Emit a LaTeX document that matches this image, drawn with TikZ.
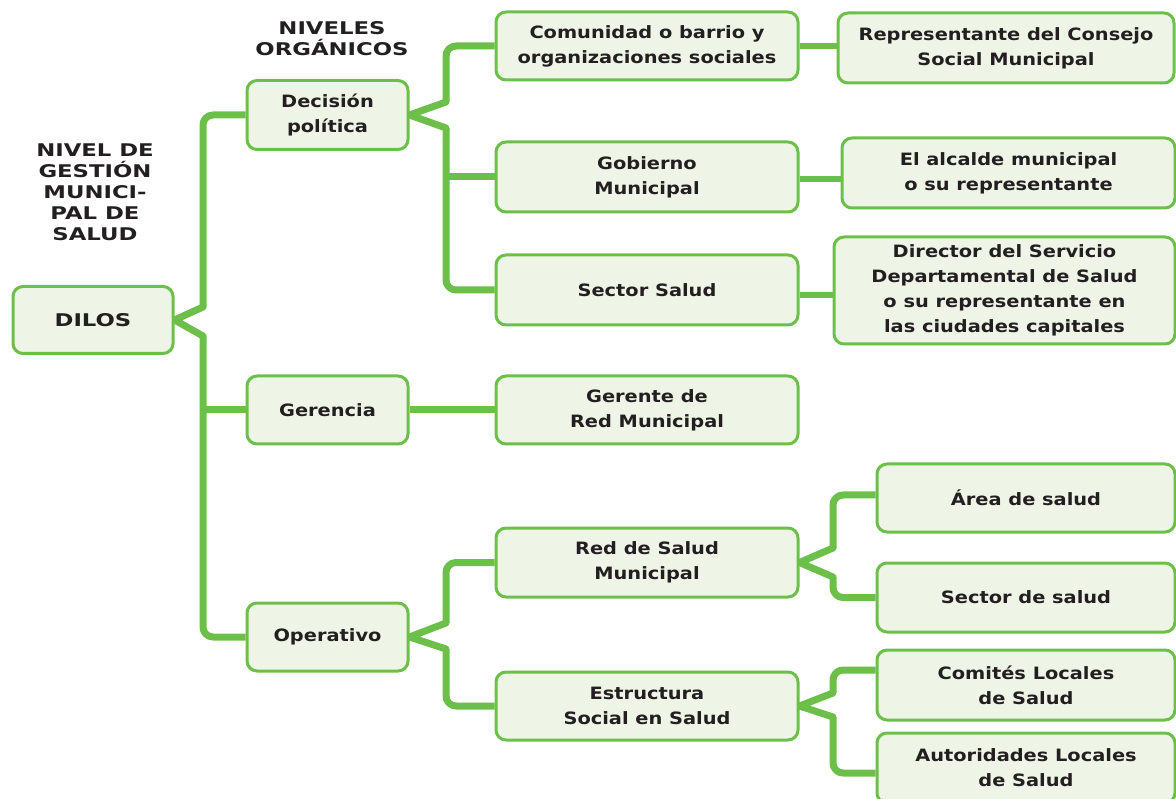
\documentclass[tikz,border=0pt]{standalone}
\usepackage{fontspec}
\setmainfont{DejaVu Sans}
\newfontfamily\boxfont{DejaVu Sans Bold}[FakeStretch=1.14]
\newfontfamily\capsfont{DejaVu Sans Bold}[FakeStretch=1.3]
\usetikzlibrary{backgrounds}
\definecolor{leaf}{HTML}{6CC04A}
\definecolor{leaffill}{HTML}{EEF5E7}
\definecolor{ink}{HTML}{231F20}
\tikzset{
  box/.style={draw=leaf, line width=3pt, fill=leaffill, rounded corners=10pt,
    align=center, text=ink, font=\boxfont\fontsize{17}{25}\selectfont, inner sep=0pt},
  capsbox/.style={box, font=\capsfont\fontsize{17.5}{25}\selectfont},
  heading/.style={align=center, text=ink, font=\capsfont\fontsize{17.5}{21}\selectfont},
  conn/.style={draw=leaf, line width=7pt, line join=round},
  arm/.style={conn, rounded corners=10pt},
  wedge/.style={conn, line cap=round, line join=miter},
  link/.style={draw=leaf, line width=6pt},
}
\begin{document}
\begin{tikzpicture}[x=1pt, y=-1pt]
\useasboundingbox (0,0) rectangle (1176,799);

% headings
\node[heading] (hniv) at (332,39) {NIVELES\\ORGÁNICOS};
\node[heading] (hges) at (95,192) {NIVEL DE\\GESTIÓN\\MUNICI-\\PAL DE\\SALUD};

% level 0
\node[capsbox, minimum width=160pt, minimum height=67pt] (dilos) at (93,320) {DILOS};

% level 1
\node[box, minimum width=161pt, minimum height=69pt] (dec) at (327.5,115) {Decisión\\política};
\node[box, minimum width=161pt, minimum height=68pt] (ger) at (327.5,410) {Gerencia};
\node[box, minimum width=161pt, minimum height=68pt] (ope) at (327.5,637) {Operativo};

% level 2
\node[box, minimum width=302pt, minimum height=68pt] (com) at (647,46) {Comunidad o barrio y\\organizaciones sociales};
\node[box, minimum width=302pt, minimum height=70pt] (gob) at (647,177) {Gobierno\\Municipal};
\node[box, minimum width=302pt, minimum height=70pt] (sal) at (647,290) {Sector Salud};
\node[box, minimum width=302pt, minimum height=68pt] (gte) at (647,410) {Gerente de\\Red Municipal};
\node[box, minimum width=302pt, minimum height=69pt] (red) at (647,562.5) {Red de Salud\\Municipal};
\node[box, minimum width=302pt, minimum height=68pt] (est) at (647,706) {Estructura\\Social en Salud};

% level 3
\node[box, minimum width=336pt, minimum height=70pt] (rep) at (1006,48) {Representante del Consejo\\Social Municipal};
\node[box, minimum width=333pt, minimum height=70pt] (alc) at (1008.5,173) {El alcalde municipal\\o su representante};
\node[box, minimum width=341pt, minimum height=107pt] (dir) at (1004.5,290.5) {Director del Servicio\\Departamental de Salud\\o su representante en\\las ciudades capitales};
\node[box, minimum width=298pt, minimum height=68pt] (area) at (1026,498) {Área de salud};
\node[box, minimum width=298pt, minimum height=69pt] (sect) at (1026,597.5) {Sector de salud};
\node[box, minimum width=298pt, minimum height=70pt] (comi) at (1026,685) {Comités Locales\\de Salud};
\node[box, minimum width=298pt, minimum height=70pt] (aut) at (1026,768) {Autoridades Locales\\de Salud};

% branch points of the brackets
\coordinate (d1) at (203,307);  \coordinate (d2) at (203,336);
\coordinate (p1) at (446,102);  \coordinate (p2) at (446,128);
\coordinate (o1) at (446,623);  \coordinate (o2) at (446,649);
\coordinate (r1) at (833,548);  \coordinate (r2) at (833,577);
\coordinate (e1) at (833,693);  \coordinate (e2) at (833,717);

\begin{scope}[on background layer]
  % DILOS
  \draw[arm] (dec.west) -| (d1);
  \draw[wedge] (d1) -- (dilos.east) -- (d2);
  \draw[arm] (d2) |- (ope.west);
  \draw[conn] (ger.west) -- (ger.west -| d1);
  % Decisión política
  \draw[arm] (com.west) -| (p1);
  \draw[wedge] (p1) -- (dec.east) -- (p2);
  \draw[arm] (p2) |- (sal.west);
  \draw[conn] (gob.west) -- (gob.west -| p2);
  % Operativo
  \draw[arm] (red.west) -| (o1);
  \draw[wedge] (o1) -- (ope.east) -- (o2);
  \draw[arm] (o2) |- (est.west);
  % Red de Salud Municipal
  \draw[arm] ([yshift=3pt]area.west) -| (r1);
  \draw[wedge] (r1) -- (red.east) -- (r2);
  \draw[arm] (r2) |- (sect.west);
  % Estructura Social en Salud
  \draw[arm] ([yshift=15pt]comi.west) -| (e1);
  \draw[wedge] (e1) -- (est.east) -- (e2);
  \draw[arm] (e2) |- ([yshift=-5pt]aut.west);
  % straight links
  \draw[conn] (ger.east) -- (gte.west);
  \draw[link] (com.east) -- (com.east -| rep.west);
  \draw[link] ([yshift=-2pt]gob.east) -- ([yshift=-2pt]gob.east -| alc.west);
  \draw[link] ([yshift=-5pt]sal.east) -- ([yshift=-5pt]sal.east -| dir.west);
\end{scope}
\end{tikzpicture}
\end{document}
